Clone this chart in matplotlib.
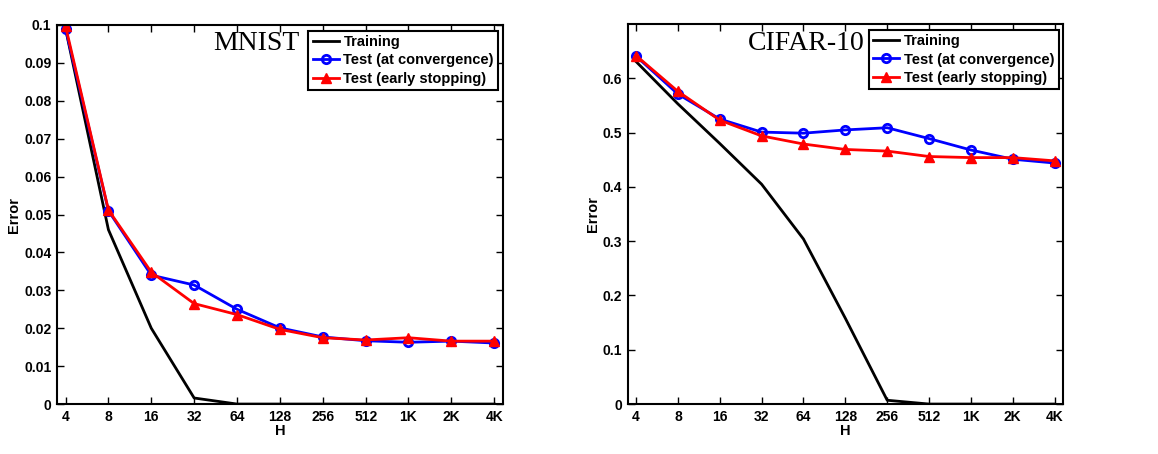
import matplotlib
matplotlib.use('Agg')
import matplotlib.pyplot as plt

# hidden units
h_labels = ['4', '8', '16', '32', '64', '128', '256', '512', '1K', '2K', '4K']

# MNIST
mnist_train = [0.099, 0.046, 0.020, 0.0016, 0.0, 0.0, 0.0, 0.0, 0.0, 0.0, 0.0]
mnist_conv = [0.099, 0.051, 0.034, 0.0314, 0.025, 0.0201, 0.0177, 0.0167, 0.0163, 0.0166, 0.0161]
mnist_early = [0.0997, 0.0512, 0.0348, 0.0265, 0.0236, 0.0197, 0.0175, 0.0169, 0.0175, 0.0166, 0.0166]
mnist_yticks = [0, 0.01, 0.02, 0.03, 0.04, 0.05, 0.06, 0.07, 0.08, 0.09, 0.1]
mnist_yticklabels = ['0', '0.01', '0.02', '0.03', '0.04', '0.05', '0.06', '0.07', '0.08', '0.09', '0.1']

# CIFAR-10
cifar_train = [0.631, 0.553, 0.480, 0.405, 0.304, 0.158, 0.007, 0.0, 0.0, 0.0, 0.0]
cifar_conv = [0.641, 0.571, 0.525, 0.501, 0.499, 0.505, 0.509, 0.489, 0.468, 0.451, 0.444]
cifar_early = [0.642, 0.576, 0.523, 0.494, 0.479, 0.469, 0.466, 0.456, 0.454, 0.454, 0.448]
cifar_yticks = [0, 0.1, 0.2, 0.3, 0.4, 0.5, 0.6]
cifar_yticklabels = ['0', '0.1', '0.2', '0.3', '0.4', '0.5', '0.6']

plt.rcParams['font.family'] = 'Liberation Sans'
plt.rcParams['font.weight'] = 'bold'

fig = plt.figure(figsize=(11.58, 4.54), dpi=100)
ax1 = fig.add_axes([0.0492, 0.110, 0.385, 0.835])
ax2 = fig.add_axes([0.542, 0.110, 0.376, 0.837])


def draw(ax, train, conv, early, yticks, yticklabels, ymax, name):
    x = list(range(len(h_labels)))
    ax.plot(x, train, color='black', lw=2, label='Training')
    ax.plot(x, conv, color='blue', lw=2, marker='o', ms=6,
            markerfacecolor='none', markeredgewidth=2, label='Test (at convergence)')
    ax.plot(x, early, color='red', lw=2, marker='^', ms=7.5,
            markerfacecolor='red', label='Test (early stopping)')
    ax.set_xlim(-0.2, len(h_labels) - 0.8)
    ax.set_ylim(0, ymax)
    ax.set_xticks(x)
    ax.set_xticklabels(h_labels, fontsize=10, fontweight='bold')
    ax.set_yticks(yticks)
    ax.set_yticklabels(yticklabels, fontsize=10, fontweight='bold')
    ax.tick_params(direction='in', top=True, right=True, length=5, width=1, pad=4)
    for s in ax.spines.values():
        s.set_linewidth(1.5)
    ax.set_xlabel('H', fontsize=10.5, fontweight='bold', labelpad=0)
    ax.set_ylabel('Error', fontsize=10.5, fontweight='bold', labelpad=2)
    ax.text(0.545, 0.95, name, transform=ax.transAxes, ha='right', va='center',
            fontsize=20, family='Liberation Serif', fontweight='normal')
    leg = ax.legend(loc='upper right', fontsize=10.5, frameon=True, fancybox=False,
                    edgecolor='black', borderpad=0.3, labelspacing=0.3,
                    handlelength=1.8, handletextpad=0.3, borderaxespad=0,
                    bbox_to_anchor=(0.99, 0.985))
    leg.get_frame().set_linewidth(1.5)
    leg.get_frame().set_alpha(1)


draw(ax1, mnist_train, mnist_conv, mnist_early, mnist_yticks, mnist_yticklabels, 0.1, 'MNIST')
draw(ax2, cifar_train, cifar_conv, cifar_early, cifar_yticks, cifar_yticklabels, 0.7, 'CIFAR-10')

plt.savefig('out.png', dpi=100)
